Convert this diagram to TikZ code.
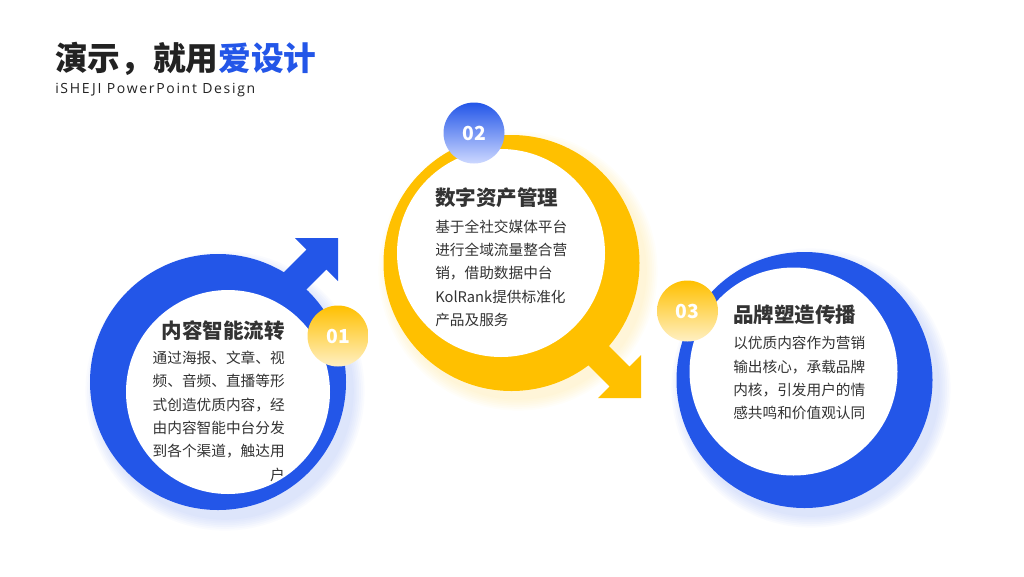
\documentclass[tikz,border=0pt]{standalone}
\usepackage{fontspec}
\setmainfont{Noto Sans CJK SC}
\newfontfamily\subfont{Open Sans}[LetterSpace=12]
\usetikzlibrary{positioning}
\definecolor{designBlue}{RGB}{35,86,232}
\definecolor{designYellow}{RGB}{255,192,0}
\definecolor{paleBlue}{RGB}{205,216,255}
\definecolor{paleYellow}{RGB}{255,240,196}
\definecolor{textDark}{RGB}{51,51,51}
\definecolor{titleDark}{RGB}{34,34,34}

\begin{document}
\begin{tikzpicture}[x=0.75pt,y=-0.75pt,
    head/.style={inner sep=0pt,text=textDark,font=\fontsize{15.4}{18}\selectfont\bfseries},
    body/.style={inner sep=0pt,text=textDark,font=\fontsize{11}{14}\selectfont},
    badge/.style={circle,inner sep=0pt,minimum size=45.75pt,text=white,font=\fontsize{14.5}{16}\selectfont\bfseries}]
    \useasboundingbox (0,0) rectangle (1024,576);
    % soft glow round the rings
    \foreach \cx/\cy/\col in {225/391/designBlue, 518/271/designYellow, 811/388/designBlue}
      \foreach \i in {1,...,7}
        \fill[\col,opacity=0.022] (\cx,\cy) circle ({127+1.8*\i});
    % ring 1 with arrow up-right
    \fill[designBlue] (218,382) circle (128);
    \fill[designBlue] (264,292) -- (306.6,249.6) -- (295,238) -- (338,238)
      -- (338,281) -- (326.4,269.4) -- (284,312) -- cycle;
    \fill[white] (228,392) circle (102);
    % ring 2 with arrow down-right
    \fill[designYellow] (511.5,263) circle (128);
    \fill[designYellow] (587,324.2) -- (629.4,366.6) -- (641,355) -- (641,398)
      -- (598,398) -- (609.6,386.4) -- (567.2,344) -- cycle;
    \fill[white] (501,253) circle (104);
    % ring 3
    \fill[designBlue] (804.5,380) circle (128);
    \fill[white] (793.5,371.5) circle (104);
    % number badges
    \foreach \x/\y/\num/\topc/\botc in {338/336/01/designYellow/paleYellow,
      474/133/02/designBlue/paleBlue, 687.5/311/03/designYellow/paleYellow}
        \node[badge,top color=\topc,bottom color=\botc] (badge\num) at (\x,\y) {\num};
    % title
    \node[anchor=base west,inner sep=0pt,text=titleDark,font=\fontsize{24.5}{28}\selectfont\bfseries]
      (title) at (55,70) {演示，就用\textcolor{designBlue}{爱设计}};
    \node[anchor=base west,inner sep=0pt,text=titleDark,font=\subfont\fontsize{10.5}{12}\selectfont]
      (subtitle) at (55,93) {iSHEJI PowerPoint Design};
    % texts
    \node[head,anchor=base east] (head1) at (285,338) {内容智能流转};
    \foreach \t [count=\i] in {通过海报、文章、视, 频、音频、直播等形, 式创造优质内容，经,
      由内容智能中台分发, 到各个渠道，触达用, 户}
        \node[body,anchor=base east] (bodyA\i) at (285,{363.6+23.3*(\i-1)}) {\t};
    \node[head,anchor=base west] (head2) at (435,205.8) {数字资产管理};
    \foreach \t [count=\i] in {基于全社交媒体平台, 进行全域流量整合营, 销，借助数据中台,
      KolRank提供标准化, 产品及服务}
        \node[body,anchor=base west] (bodyB\i) at (435,{232.3+23.3*(\i-1)}) {\t};
    \node[head,anchor=base west] (head3) at (733,322.8) {品牌塑造传播};
    \foreach \t [count=\i] in {以优质内容作为营销, 输出核心，承载品牌, 内核，引发用户的情,
      感共鸣和价值观认同}
        \node[body,anchor=base west] (bodyC\i) at (733,{348.9+23.1*(\i-1)}) {\t};
\end{tikzpicture}
\end{document}
